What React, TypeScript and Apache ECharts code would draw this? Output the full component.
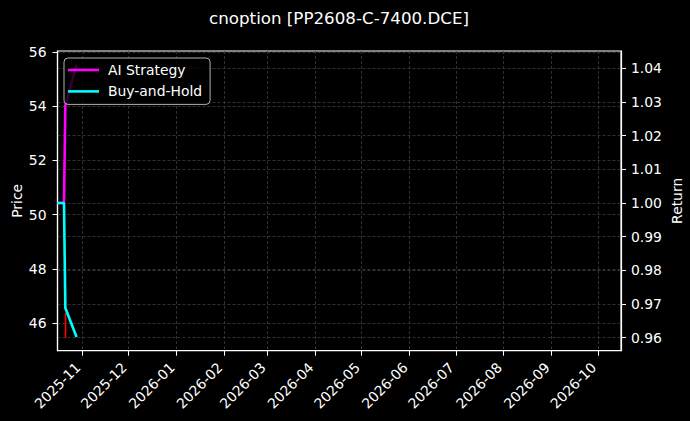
import React, { useEffect, useRef } from "react";
import * as echarts from "echarts";

const chartTitle = "cnoption [PP2608-C-7400.DCE]";
const dates = ["2025-10-16 00:00", "2025-10-20 05:00", "2025-10-21 02:00", "2025-10-28 08:00"];
const aiStrategy = [1.0, 1.0, 1.029, 1.041];
const buyAndHold = [1.0, 1.0, 0.9688, 0.9602];
const wickDate = "2025-10-21 05:00";
const wickLow = 45.47;
const wickHigh = 46.39;
const monthTicks = [
  "2025-11-01", "2025-12-01", "2026-01-01", "2026-02-01", "2026-03-01", "2026-04-01",
  "2026-05-01", "2026-06-01", "2026-07-01", "2026-08-01", "2026-09-01", "2026-10-01",
];
const priceTicks = [46, 48, 50, 52, 54, 56];
const returnTicks = [0.96, 0.97, 0.98, 0.99, 1.0, 1.01, 1.02, 1.03, 1.04];
const xMin = "2025-10-16 00:00";
const xMax = "2026-10-16 00:00";
const priceMin = 44.99;
const priceMax = 56.03;
const returnMin = 0.95614;
const returnMax = 1.0451;

const FONT = "DejaVu Sans";
const toTs = (s: string) => +echarts.time.parse(s);

export default function App() {
  const ref = useRef<HTMLDivElement>(null);
  useEffect(() => {
    const chart = echarts.init(ref.current!, null, { renderer: "svg" });
    const gridLine = { show: true, lineStyle: { color: "#3c3c3c", width: 0.8, type: [3, 2] as any } };
    const monthTs = monthTicks.map(toTs);
    chart.setOption({
      animation: false,
      backgroundColor: "#000",
      textStyle: { fontFamily: FONT },
      title: {
        text: chartTitle,
        left: 339,
        textAlign: "center",
        top: 9,
        padding: 0,
        textStyle: { color: "#fff", fontSize: 16.7, fontWeight: "normal", fontFamily: FONT },
      },
      legend: {
        left: 64,
        top: 58,
        orient: "vertical",
        backgroundColor: "rgba(0,0,0,0.8)",
        borderColor: "#b0b0b0",
        borderWidth: 1,
        borderRadius: 4,
        padding: [4, 8, 5, 4],
        itemWidth: 31,
        itemHeight: 2.6,
        itemGap: 5.4,
        icon: "rect",
        textStyle: { color: "#fff", fontSize: 13.9, fontFamily: FONT, lineHeight: 16, padding: [0, 0, 0, 4] },
        data: ["AI Strategy", "Buy-and-Hold"],
      },
      grid: {
        left: 57.5,
        top: 51,
        right: 69,
        bottom: 70.3,
        outerBoundsMode: "none",
        containLabel: false,
        show: true,
        borderColor: "#fff",
        borderWidth: 1.2,
        backgroundColor: "#000",
      },
      xAxis: {
        type: "value",
        min: toTs(xMin),
        max: toTs(xMax),
        axisLine: { show: true, lineStyle: { color: "#fff", width: 1.2 } },
        axisTick: { show: true, length: 5, lineStyle: { color: "#fff" }, customValues: monthTs },
        axisLabel: {
          color: "#fff",
          fontSize: 13.9,
          fontFamily: FONT,
          rotate: 45,
          margin: 10,
          padding: [0, 6, 0, 0],
          customValues: monthTs,
          formatter: (v: number) => {
            const d = new Date(v);
            return `${d.getFullYear()}-${String(d.getMonth() + 1).padStart(2, "0")}`;
          },
        },
        splitLine: gridLine,
      },
      yAxis: [
        {
          type: "value",
          position: "left",
          min: priceMin,
          max: priceMax,
          name: "Price",
          nameLocation: "middle",
          nameGap: 34,
          nameRotate: 90,
          nameMoveOverlap: false,
          nameTextStyle: { color: "#fff", fontSize: 13.9, fontFamily: FONT },
          axisLine: { show: true, lineStyle: { color: "#fff", width: 1.2 } },
          axisTick: { show: true, length: 5, lineStyle: { color: "#fff" }, customValues: priceTicks },
          axisLabel: { color: "#fff", fontSize: 13.9, fontFamily: FONT, margin: 11, customValues: priceTicks },
          splitLine: gridLine,
        },
        {
          type: "value",
          position: "right",
          min: returnMin,
          max: returnMax,
          name: "Return",
          nameLocation: "middle",
          nameGap: 49,
          nameRotate: 90,
          nameMoveOverlap: false,
          nameTextStyle: { color: "#fff", fontSize: 13.9, fontFamily: FONT },
          axisLine: { show: true, lineStyle: { color: "#fff", width: 1.2 } },
          axisTick: { show: true, length: 5, lineStyle: { color: "#fff" }, customValues: returnTicks },
          axisLabel: {
            color: "#fff",
            fontSize: 13.9,
            fontFamily: FONT,
            margin: 10,
            customValues: returnTicks,
            formatter: (v: number) => v.toFixed(2),
          },
          splitLine: gridLine,
        },
      ],
      series: [
        {
          name: "Price wick",
          type: "line",
          yAxisIndex: 0,
          data: [[toTs(wickDate), wickLow], [toTs(wickDate), wickHigh]],
          showSymbol: false,
          lineStyle: { color: "#ff0000", width: 1.6 },
          itemStyle: { color: "#ff0000" },
        },
        {
          name: "AI Strategy",
          type: "line",
          yAxisIndex: 1,
          data: dates.map((d, i) => [toTs(d), aiStrategy[i]]),
          showSymbol: false,
          lineStyle: { color: "#ff00ff", width: 2.6 },
          itemStyle: { color: "#ff00ff" },
        },
        {
          name: "Buy-and-Hold",
          type: "line",
          yAxisIndex: 1,
          data: dates.map((d, i) => [toTs(d), buyAndHold[i]]),
          showSymbol: false,
          lineStyle: { color: "#00ffff", width: 2.6 },
          itemStyle: { color: "#00ffff" },
        },
      ],
    });
    return () => chart.dispose();
  }, []);
  return (
    <div
      ref={ref}
      style={{ position: "fixed", left: 0, top: 0, width: 690, height: 421, background: "#000" }}
    />
  );
}
